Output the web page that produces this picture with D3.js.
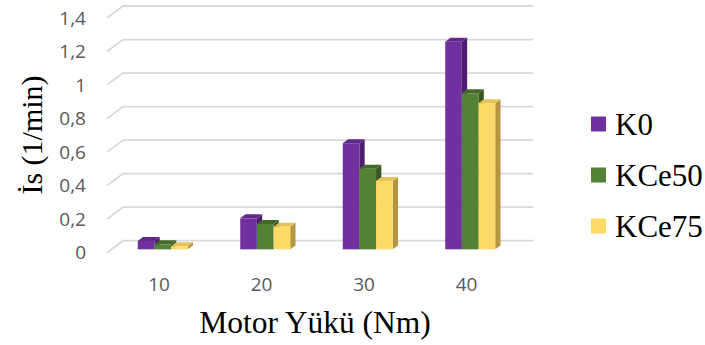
<!DOCTYPE html>
<html>
<head>
<meta charset="utf-8">
<script src="https://cdn.jsdelivr.net/npm/d3@7"></script>
<style>
  body { margin: 0; background: #fff; }
  svg { display: block; }
</style>
</head>
<body>
<div id="chart"></div>
<script>
// data
var categories = ["10", "20", "30", "40"];
var seriesNames = ["K0", "KCe50", "KCe75"];
var k0 = [0.05, 0.185, 0.633, 1.239];
var kce50 = [0.03, 0.151, 0.481, 0.931];
var kce75 = [0.018, 0.135, 0.408, 0.872];
var yTicks = [0, 0.2, 0.4, 0.6, 0.8, 1, 1.2, 1.4];

var seriesValues = [k0, kce50, kce75];
var front = ["#7030A0", "#548235", "#FFD966"];
var topCol = ["#5f2889", "#43692a", "#e3c25a"];
var sideCol = ["#4b1f6d", "#375623", "#b3963f"];

var width = 705, height = 345;
var depthX = 16, depthY = 12;   // oblique offset from back wall to front edge

var svg = d3.select("#chart").append("svg")
    .attr("width", width)
    .attr("height", height);

// scales on the back wall
var x = d3.scaleBand().domain(categories).range([123, 533]);
var y = d3.scaleLinear().domain([0, 1.4]).range([240.7, 6]);
var xInner = d3.scaleBand().domain(seriesNames).range([0, 50]);

function px(xv, d) { return xv - depthX * d; }
function py(yv, d) { return yv + depthY * d; }

// gridlines: back line + left wall diagonal
var grid = svg.append("g");
yTicks.forEach(function(t) {
  grid.append("path")
    .attr("d", "M" + px(123, 1) + "," + py(y(t), 1) + "L123," + y(t) + "L533," + y(t))
    .attr("fill", "none")
    .attr("stroke", "#d9d9d9")
    .attr("stroke-width", 1.8);
});

// y tick labels
svg.append("g").selectAll("text")
  .data(yTicks)
  .join("text")
  .attr("x", 86)
  .attr("y", function(d) { return py(y(d), 1); })
  .attr("dy", "0.35em")
  .attr("text-anchor", "end")
  .attr("font-family", "'Open Sans', sans-serif")
  .attr("font-size", 19)
  .attr("fill", "#595959")
  .text(function(d) { return String(d).replace(".", ","); });

// x tick labels
svg.append("g").selectAll("text")
  .data(categories)
  .join("text")
  .attr("x", function(d) { return px(x(d) + x.bandwidth() / 2, 0.95); })
  .attr("y", 290.5)
  .attr("text-anchor", "middle")
  .attr("font-family", "'Open Sans', sans-serif")
  .attr("font-size", 19)
  .attr("fill", "#595959")
  .text(function(d) { return d; });

// 3d bars
var dFront = 0.72, dBack = 0.39;
var bars = svg.append("g");
var groupOffset = (x.bandwidth() - 50) / 2;
categories.forEach(function(c, ci) {
  seriesNames.forEach(function(s, si) {
    var v = seriesValues[si][ci];
    var x0 = x(c) + groupOffset + xInner(s);
    var x1 = x0 + xInner.bandwidth();
    var yt = y(v), yb = y(0);
    var g = bars.append("g");
    // side face
    g.append("path")
      .attr("d", "M" + px(x1, dFront) + "," + py(yb, dFront) +
                 "L" + px(x1, dBack) + "," + py(yb, dBack) +
                 "L" + px(x1, dBack) + "," + py(yt, dBack) +
                 "L" + px(x1, dFront) + "," + py(yt, dFront) + "Z")
      .attr("fill", sideCol[si]);
    // top face
    g.append("path")
      .attr("d", "M" + px(x0, dFront) + "," + py(yt, dFront) +
                 "L" + px(x0, dBack) + "," + py(yt, dBack) +
                 "L" + px(x1, dBack) + "," + py(yt, dBack) +
                 "L" + px(x1, dFront) + "," + py(yt, dFront) + "Z")
      .attr("fill", topCol[si]);
    // front face
    g.append("rect")
      .attr("x", px(x0, dFront))
      .attr("y", py(yt, dFront))
      .attr("width", x1 - x0)
      .attr("height", yb - yt)
      .attr("fill", front[si]);
  });
});

// axis titles
svg.append("text")
  .attr("transform", "translate(42,135) rotate(-90)")
  .attr("text-anchor", "middle")
  .attr("font-family", "'Liberation Serif', 'Times New Roman', serif")
  .attr("font-size", 30)
  .attr("fill", "#000")
  .text("İs (1/min)");

svg.append("text")
  .attr("x", 315)
  .attr("y", 333)
  .attr("text-anchor", "middle")
  .attr("font-family", "'Liberation Serif', 'Times New Roman', serif")
  .attr("font-size", 31.5)
  .attr("fill", "#000")
  .text("Motor Yükü (Nm)");

// legend
var legend = svg.append("g").selectAll("g")
  .data(seriesNames)
  .join("g")
  .attr("transform", function(d, i) { return "translate(591," + (124 + i * 51) + ")"; });

legend.append("rect")
  .attr("x", 0)
  .attr("y", -7.5)
  .attr("width", 15)
  .attr("height", 15)
  .attr("fill", function(d, i) { return front[i]; });

legend.append("text")
  .attr("x", 24)
  .attr("y", 10.5)
  .attr("font-family", "'Liberation Serif', 'Times New Roman', serif")
  .attr("font-size", 31)
  .attr("fill", "#000")
  .text(function(d) { return d; });
</script>
</body>
</html>
